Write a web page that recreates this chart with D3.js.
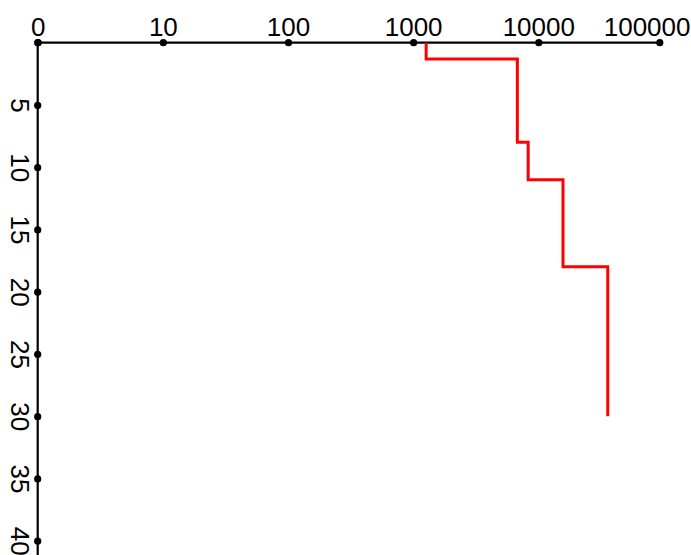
<!DOCTYPE html>
<html>
<head>
<meta charset="utf-8">
<script src="https://cdn.jsdelivr.net/npm/d3@7"></script>
<style>
  html, body { margin: 0; padding: 0; background: #fff; }
  svg { display: block; }
  text { font-family: "Liberation Sans", Arial, sans-serif; fill: #000; }
</style>
</head>
<body>
<div id="chart"></div>
<script>
// Log-scaled value axis across the top, depth axis running downward
const xTickValues = [1, 10, 100, 1000, 10000, 100000];
const xTickLabels = ["0", "10", "100", "1000", "10000", "100000"];
const yTickValues = [5, 10, 15, 20, 25, 30, 35, 40];

// Step profile: value held constant from the previous depth down to the next
const profileValues = [1270, 6800, 8300, 16000, 37500, 37500];
const profileDepths = [0, 1.3, 8, 11, 18, 30];

const W = 691, H = 555;
const svg = d3.select("#chart").append("svg")
  .attr("width", W).attr("height", H);

const x = d3.scaleLog()
  .domain([1, 10000, 100000])
  .range([37.7, 538.3, 659.3]);
const y = d3.scaleLinear()
  .domain([0, 40])
  .range([42.7, 540.7]);

const axisColor = "#000";
const labelSize = "26px";

// Top axis
const gx = svg.append("g").attr("transform", `translate(0,${y(0)})`);
gx.call(d3.axisTop(x)
  .tickValues(xTickValues)
  .tickFormat((d, i) => xTickLabels[i])
  .tickSize(0)
  .tickPadding(6.5));
gx.select(".domain").remove();
gx.append("line")
  .attr("x1", x(1)).attr("x2", x(100000))
  .attr("stroke", axisColor).attr("stroke-width", 2.2);
gx.selectAll(".tick text")
  .style("font-size", labelSize)
  .style("font-family", "'Liberation Sans', Arial, sans-serif")
  .attr("fill", "#000");
// keep the last label inside the frame
gx.selectAll(".tick text").each(function () {
  const bb = this.getBBox();
  const tx = x(d3.select(this.parentNode).datum());
  const right = tx + bb.x + bb.width;
  if (right > W - 1) d3.select(this).attr("x", (W - 1) - right);
});
gx.selectAll(".tick").append("circle")
  .attr("r", 3.6).attr("fill", axisColor);

// Left axis
const gy = svg.append("g").attr("transform", `translate(${x(1)},0)`);
gy.call(d3.axisLeft(y)
  .tickValues(yTickValues)
  .tickSize(0));
gy.select(".domain").remove();
gy.append("line")
  .attr("y1", y(0)).attr("y2", y(42))
  .attr("stroke", axisColor).attr("stroke-width", 2.2);
gy.selectAll(".tick text")
  .attr("x", null).attr("dy", null)
  .attr("text-anchor", "middle")
  .attr("transform", "translate(-27,0) rotate(90)")
  .style("font-size", labelSize)
  .style("font-family", "'Liberation Sans', Arial, sans-serif")
  .attr("fill", "#000");
gy.selectAll(".tick").append("circle")
  .attr("r", 3.6).attr("fill", axisColor);
// origin dot
svg.append("circle")
  .attr("cx", x(1)).attr("cy", y(0))
  .attr("r", 3.6).attr("fill", axisColor);

// Profile line
const line = d3.line()
  .x(d => x(d[0]))
  .y(d => y(d[1]))
  .curve(d3.curveStepBefore);
svg.append("path")
  .datum(d3.zip(profileValues, profileDepths))
  .attr("d", line)
  .attr("fill", "none")
  .attr("stroke", "#ff0000")
  .attr("stroke-width", 3);
</script>
</body>
</html>
